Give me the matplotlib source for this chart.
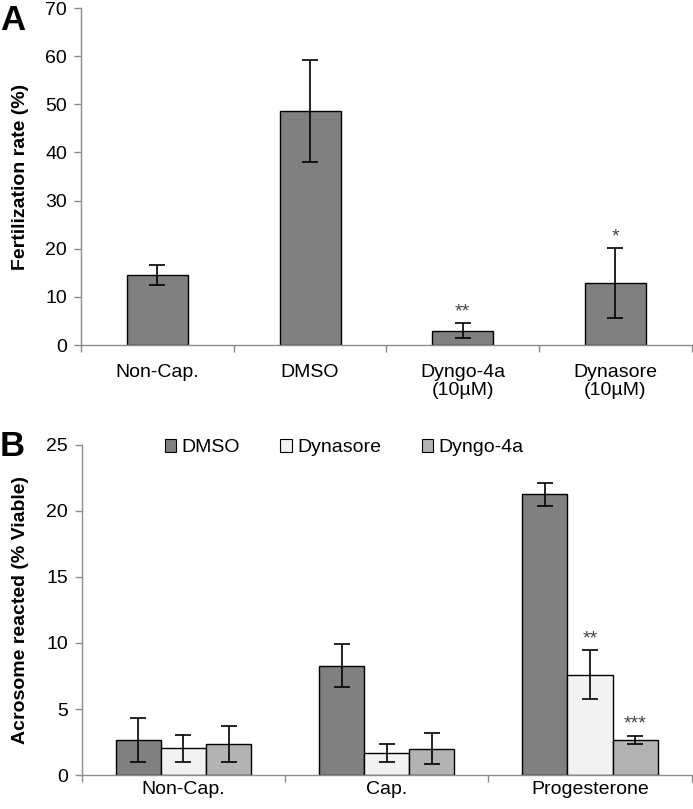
import numpy as np
import matplotlib.pyplot as plt

plt.rcParams['font.family'] = ['Liberation Sans', 'DejaVu Sans']

# Panel A data
a_labels = ['Non-Cap.', 'DMSO', 'Dyngo-4a\n(10µM)', 'Dynasore\n(10µM)']
a_values = [14.5, 48.7, 3.0, 12.9]
a_errors = [2.1, 10.6, 1.6, 7.2]
a_stars = ['', '', '**', '*']

# Panel B data
b_groups = ['Non-Cap.', 'Cap.', 'Progesterone']
b_series = ['DMSO', 'Dynasore', 'Dyngo-4a']
b_dmso = [2.65, 8.28, 21.25]
b_dmso_err = [1.65, 1.65, 0.9]
b_dynasore = [2.02, 1.69, 7.6]
b_dynasore_err = [1.0, 0.67, 1.84]
b_dyngo = [2.35, 1.99, 2.65]
b_dyngo_err = [1.33, 1.16, 0.33]
b_stars = [['', '', ''], ['', '', ''], ['', '**', '***']]

colors = ['#808080', '#f2f2f2', '#b3b3b3']
spine_col = '#8c8c8c'
fs = 14

fig = plt.figure(figsize=(6.93, 8.09), dpi=100)
axA = fig.add_axes([0.117, 0.5735, 0.881, 0.4165])
axB = fig.add_axes([0.118, 0.042, 0.880, 0.408])


def style(ax):
    for s in ['top', 'right']:
        ax.spines[s].set_visible(False)
    for s in ['left', 'bottom']:
        ax.spines[s].set_color(spine_col)
        ax.spines[s].set_linewidth(1.0)
    ax.tick_params(axis='y', colors=spine_col, labelcolor='black',
                   labelsize=fs, length=5, width=1, pad=5)
    ax.tick_params(axis='x', which='major', length=0, labelsize=fs)
    ax.tick_params(axis='x', which='minor', length=5, color=spine_col, width=1)


# ---- Panel A ----
xa = np.arange(len(a_values))
axA.bar(xa, a_values, width=0.4, color=colors[0], edgecolor='black', linewidth=1.0)
axA.errorbar(xa, a_values, yerr=a_errors, fmt='none', ecolor='black',
             elinewidth=1.2, capsize=6, capthick=1.2)
for x, v, e, s in zip(xa, a_values, a_errors, a_stars):
    if s:
        axA.text(x, v + e + 0.6, s, ha='center', va='bottom', fontsize=fs, color='#444444')
axA.set_xlim(-0.5, len(a_values) - 0.5)
axA.set_ylim(0, 70)
axA.set_yticks(range(0, 71, 10))
axA.set_xticks(xa)
axA.set_xticklabels(a_labels, linespacing=1.05)
axA.set_xticks(np.arange(-0.5, len(a_values), 1), minor=True)
axA.set_ylabel('Fertilization rate (%)', fontsize=fs, fontweight='bold', labelpad=12)
style(axA)
axA.tick_params(axis='x', which='major', pad=14)

# ---- Panel B ----
xb = np.arange(len(b_groups))
w = 0.222
b_vals = [b_dmso, b_dynasore, b_dyngo]
b_errs = [b_dmso_err, b_dynasore_err, b_dyngo_err]
for i, (vals, errs, name) in enumerate(zip(b_vals, b_errs, b_series)):
    pos = xb + (i - 1) * w
    axB.bar(pos, vals, width=w, color=colors[i], edgecolor='black', linewidth=1.0, label=name)
    axB.errorbar(pos, vals, yerr=errs, fmt='none', ecolor='black',
                 elinewidth=1.2, capsize=6, capthick=1.2)
    for j in range(len(b_groups)):
        s = b_stars[j][i]
        if s:
            axB.text(pos[j], vals[j] + errs[j] + 0.25, s, ha='center', va='bottom',
                     fontsize=fs, color='#444444')
axB.set_xlim(-0.5, len(b_groups) - 0.5)
axB.set_ylim(0, 25)
axB.set_yticks(range(0, 26, 5))
axB.set_xticks(xb)
axB.set_xticklabels(b_groups)
axB.set_xticks(np.arange(-0.5, len(b_groups), 1), minor=True)
axB.set_ylabel('Acrosome reacted (% Viable)', fontsize=fs, fontweight='bold', labelpad=12)
style(axB)
axB.tick_params(axis='x', which='major', pad=4)
leg = axB.legend(loc='upper center', bbox_to_anchor=(0.43, 1.07), ncol=3, frameon=False,
                 fontsize=fs, handlelength=0.6, handleheight=0.6, handletextpad=0.25,
                 columnspacing=2.1)
for h in leg.legend_handles:
    h.set_linewidth(0.8)

fig.text(0.0, 0.995, 'A', fontsize=25, fontweight='bold', va='top', ha='left')
fig.text(0.0, 0.468, 'B', fontsize=25, fontweight='bold', va='top', ha='left')

fig.savefig('out.png', dpi=100)
